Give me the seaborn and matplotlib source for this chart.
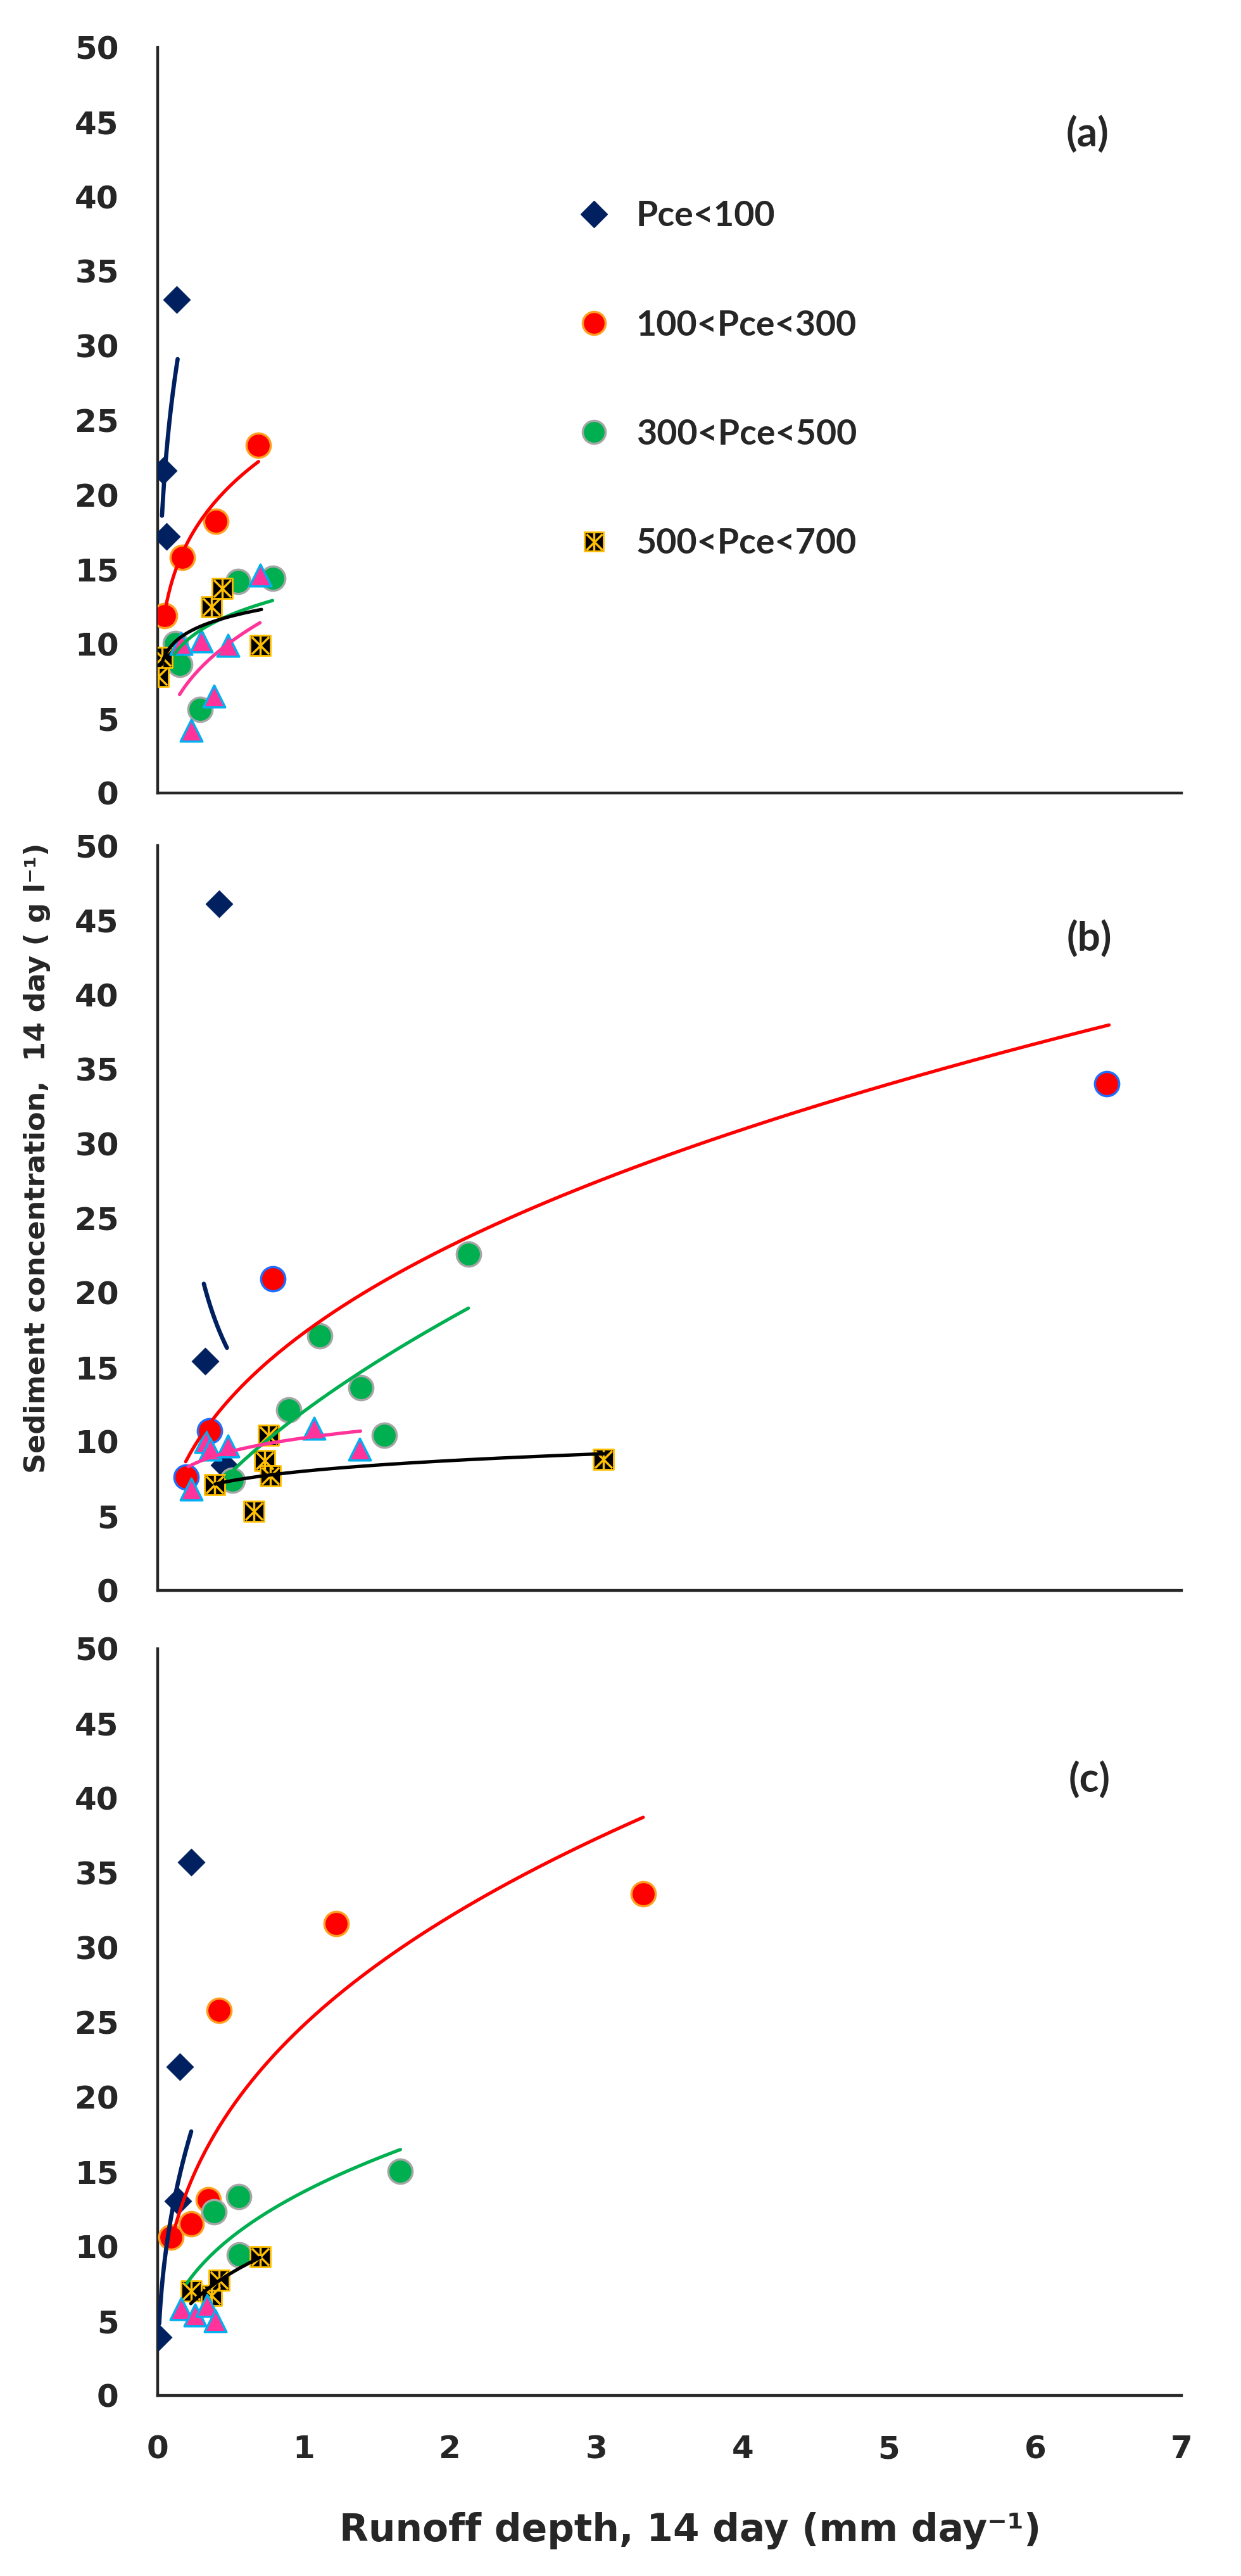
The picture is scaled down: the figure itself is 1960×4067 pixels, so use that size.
"""Sediment concentration vs runoff depth, three stacked panels (a)-(c)."""

import numpy as np
import pandas as pd
import seaborn as sns
import matplotlib.pyplot as plt
from matplotlib.lines import Line2D
from matplotlib.legend_handler import HandlerTuple

# ---------------- data ----------------
groups = ["Pce<100", "100<Pce<300", "300<Pce<500", "500<Pce<700", "Pce>700"]
legend_labels = groups[:4]
panel_tags = ["(a)", "(b)", "(c)"]

x_ticks = [0, 1, 2, 3, 4, 5, 6, 7]
y_ticks = [0, 5, 10, 15, 20, 25, 30, 35, 40, 45, 50]

# panel (a)
a_lt100_x = [0.04, 0.06, 0.13]
a_lt100_y = [21.6, 17.2, 33.1]
a_100_x = [0.05, 0.17, 0.40, 0.69]
a_100_y = [11.9, 15.8, 18.2, 23.3]
a_300_x = [0.12, 0.15, 0.29, 0.55, 0.79]
a_300_y = [10.0, 8.6, 5.6, 14.2, 14.4]
a_500_x = [0.005, 0.03, 0.37, 0.44, 0.70]
a_500_y = [7.8, 9.1, 12.5, 13.7, 9.9]
a_700_x = [0.16, 0.23, 0.30, 0.385, 0.48, 0.70]
a_700_y = [10.0, 4.2, 10.2, 6.5, 9.9, 14.6]

# panel (b)
b_lt100_x = [0.325, 0.42, 0.455]
b_lt100_y = [15.4, 46.1, 8.4]
b_100_x = [0.195, 0.355, 0.79, 6.49]
b_100_y = [7.6, 10.7, 20.9, 34.0]
b_300_x = [0.51, 0.895, 1.11, 1.39, 1.55, 2.125]
b_300_y = [7.4, 12.1, 17.1, 13.6, 10.4, 22.6]
b_500_x = [0.39, 0.66, 0.73, 0.76, 0.77, 3.05]
b_500_y = [7.1, 5.3, 8.7, 10.4, 7.7, 8.8]
b_700_x = [0.23, 0.33, 0.36, 0.48, 1.07, 1.38]
b_700_y = [6.8, 10.0, 9.5, 9.7, 10.9, 9.5]

# panel (c)
c_lt100_x = [0.005, 0.14, 0.15, 0.23]
c_lt100_y = [3.9, 13.0, 22.0, 35.7]
c_100_x = [0.09, 0.23, 0.345, 0.42, 1.22, 3.32]
c_100_y = [10.6, 11.5, 13.1, 25.8, 31.6, 33.6]
c_300_x = [0.385, 0.555, 0.56, 1.66]
c_300_y = [12.3, 13.3, 9.4, 15.0]
c_500_x = [0.23, 0.37, 0.42, 0.70]
c_500_y = [7.0, 6.7, 7.7, 9.3]
c_700_x = [0.16, 0.255, 0.34, 0.395]
c_700_y = [5.8, 5.4, 6.0, 5.0]

# power trendlines y = k * x**p, drawn from x0 to x1 (coefficients)
a_trend_k = [52.3, 24.2, 13.44, 12.77, 12.96]
a_trend_p = [0.295, 0.230, 0.170, 0.109, 0.356]
a_trend_x0 = [0.03, 0.055, 0.115, 0.027, 0.15]
a_trend_x1 = [0.137, 0.69, 0.786, 0.71, 0.70]

b_trend_k = [10.58, 17.29, 12.02, 8.006, 10.24]
b_trend_p = [-0.578, 0.420, 0.604, 0.1225, 0.134]
b_trend_x0 = [0.316, 0.192, 0.468, 0.393, 0.209]
b_trend_x1 = [0.474, 6.505, 2.125, 3.055, 1.387]

c_trend_k = [33.2, 24.8, 13.64, 10.5]
c_trend_p = [0.429, 0.371, 0.371, 0.361]
c_trend_x0 = [0.011, 0.116, 0.20, 0.227]
c_trend_x1 = [0.23, 3.32, 1.66, 0.699]

# ---------------- styling ----------------
NAVY = "#002060"
RED = "#FF0000"
ORANGE = "#FFA020"
BLUE_EDGE = "#1F6FFF"
GREEN = "#00B050"
GREY = "#A6A6A6"
GOLD = "#FFC000"
PINK = "#FF3399"
CYAN = "#00B0F0"
line_colors = [NAVY, RED, GREEN, "black", PINK]

sns.set_style("white")
plt.rcParams["font.family"] = ["DejaVu Sans"]
plt.rcParams["font.weight"] = "bold"


def long_table(xs, ys):
    rows = []
    for g, x, y in zip(groups, xs, ys):
        rows.append(pd.DataFrame({"group": g, "x": x, "y": y}))
    return pd.concat(rows, ignore_index=True)


panels = [
    (long_table([a_lt100_x, a_100_x, a_300_x, a_500_x, a_700_x],
                [a_lt100_y, a_100_y, a_300_y, a_500_y, a_700_y]),
     (a_trend_k, a_trend_p, a_trend_x0, a_trend_x1), ORANGE),
    (long_table([b_lt100_x, b_100_x, b_300_x, b_500_x, b_700_x],
                [b_lt100_y, b_100_y, b_300_y, b_500_y, b_700_y]),
     (b_trend_k, b_trend_p, b_trend_x0, b_trend_x1), BLUE_EDGE),
    (long_table([c_lt100_x, c_100_x, c_300_x, c_500_x, c_700_x],
                [c_lt100_y, c_100_y, c_300_y, c_500_y, c_700_y]),
     (c_trend_k, c_trend_p, c_trend_x0, c_trend_x1), ORANGE),
]

fig = plt.figure(figsize=(19.6, 40.67), dpi=100)
left, width = 0.127, 0.825
rects = [(left, 0.6922, width, 0.2894),
         (left, 0.3826, width, 0.2891),
         (left, 0.0701, width, 0.2899)]
tag_pos = [(0.908, 0.884), (0.910, 0.876), (0.910, 0.825)]

for i, (df, trend, red_edge) in enumerate(panels):
    ax = fig.add_axes(rects[i])
    g = df.groupby("group", sort=False)

    d = g.get_group("Pce<100")
    sns.scatterplot(data=d, x="x", y="y", ax=ax, marker="D", s=480,
                    color=NAVY, edgecolor=NAVY, linewidth=0.5, zorder=3)
    d = g.get_group("100<Pce<300")
    sns.scatterplot(data=d, x="x", y="y", ax=ax, marker="o", s=760,
                    color=RED, edgecolor=red_edge, linewidth=2.5, zorder=3)
    d = g.get_group("300<Pce<500")
    sns.scatterplot(data=d, x="x", y="y", ax=ax, marker="o", s=760,
                    color=GREEN, edgecolor=GREY, linewidth=2.5, zorder=3)
    d = g.get_group("500<Pce<700")
    sns.scatterplot(data=d, x="x", y="y", ax=ax, marker="s", s=540,
                    color="black", edgecolor=GOLD, linewidth=2, zorder=3)
    sns.scatterplot(data=d, x="x", y="y", ax=ax, marker="x", s=380,
                    color=GOLD, linewidth=2.5, zorder=3.1)
    sns.scatterplot(data=d, x="x", y="y", ax=ax, marker="|", s=480,
                    color=GOLD, linewidth=2.5, zorder=3.1)
    d = g.get_group("Pce>700")
    sns.scatterplot(data=d, x="x", y="y", ax=ax, marker="^", s=620,
                    color=PINK, edgecolor=CYAN, linewidth=2.5, zorder=3.2)

    ks, ps, x0s, x1s = trend
    for j in range(len(ks)):
        xs = np.linspace(x0s[j], x1s[j], 200)
        sns.lineplot(x=xs, y=ks[j] * xs ** ps[j], ax=ax, color=line_colors[j],
                     lw=3.8 if j else 4.8, sort=False, estimator=None, zorder=4)

    ax.set_xlim(0, 7)
    ax.set_ylim(0, 50)
    ax.set_xticks(x_ticks)
    ax.set_yticks(y_ticks)
    ax.set_xlabel("")
    ax.set_ylabel("")
    sns.despine(ax=ax)
    for side in ["left", "bottom"]:
        ax.spines[side].set_linewidth(3.2)
        ax.spines[side].set_color("#262626")
    ax.tick_params(axis="both", direction="out", length=14, width=2.8,
                   color="#262626", labelsize=36, pad=30)
    if i < 2:
        ax.tick_params(axis="x", labelbottom=False)
    ax.text(*tag_pos[i], panel_tags[i], transform=ax.transAxes, ha="center",
            va="center", fontsize=46, fontweight="bold", family="Lato")

    if i == 0:
        handles = [
            Line2D([], [], ls="none", marker="D", ms=21, color=NAVY),
            Line2D([], [], ls="none", marker="o", ms=26, mfc=RED, mec=ORANGE, mew=2.5),
            Line2D([], [], ls="none", marker="o", ms=26, mfc=GREEN, mec=GREY, mew=2.5),
            (Line2D([], [], ls="none", marker="s", ms=22, mfc="black", mec=GOLD, mew=2),
             Line2D([], [], ls="none", marker="x", ms=18, color=GOLD, mew=2.5),
             Line2D([], [], ls="none", marker="|", ms=21, color=GOLD, mew=2.5)),
        ]
        ax.legend(handles, legend_labels, loc="center left",
                  bbox_to_anchor=(0.409, 0.554), frameon=False,
                  handler_map={tuple: HandlerTuple(ndivide=1, pad=0)},
                  prop={"family": "Lato", "weight": "bold", "size": 40},
                  labelspacing=2.2, handlelength=1.0, handletextpad=0.7,
                  borderpad=0, borderaxespad=0)

fig.text(0.030, 0.5505, "Sediment concentration,  14 day ( g l\u207b\u00b9)",
         rotation=90, ha="center", va="center", fontsize=32, fontweight="bold")
fig.text(0.556, 0.0175, "Runoff depth, 14 day (mm day\u207b\u00b9)",
         ha="center", va="center", fontsize=43, fontweight="bold")

fig.savefig("out.png", dpi=100)
